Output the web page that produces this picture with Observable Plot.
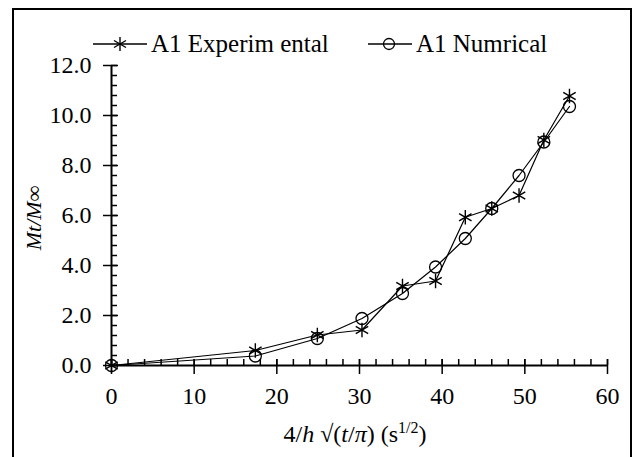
<!DOCTYPE html>
<html>
<head>
<meta charset="utf-8">
<script src="https://cdn.jsdelivr.net/npm/d3@7"></script>
<script src="https://cdn.jsdelivr.net/npm/@observablehq/plot@0.6"></script>
<style>
  html, body { margin: 0; padding: 0; background: #fff; }
  #wrap { position: relative; width: 641px; height: 457px; overflow: hidden; font-family: "Liberation Serif", "Times New Roman", Times, "DejaVu Serif", serif; color: #000; }
  #wrap svg text { font-family: "Liberation Serif", "Times New Roman", Times, "DejaVu Serif", serif; }
  #frame { position: absolute; left: 12px; top: 8px; width: 620px; height: 470px; border: 2px solid #000; box-sizing: border-box; pointer-events: none; }
  #chart { position: absolute; left: 0; top: 0; }
  .legend { position: absolute; top: 28px; font-size: 25px; line-height: 32px; white-space: nowrap; }
  .legend svg { position: absolute; top: 0; }
  .xlabel { position: absolute; top: 419px; left: 0; width: 710px; text-align: center; font-size: 24px; white-space: nowrap; }
  .ylabel { position: absolute; left: 34px; top: 218px; font-size: 22px; font-style: italic; white-space: nowrap; transform: translate(-50%, -50%) rotate(-90deg); }
</style>
</head>
<body>
<div id="wrap">
  <div id="chart"></div>
  <div id="frame"></div>
</div>
<script>
// ---- data ----
const xValues      = [0, 17.4, 24.9, 30.3, 35.2, 39.2, 42.8, 46.0, 49.3, 52.3, 55.4];
const experimental = [0, 0.60, 1.22, 1.42, 3.18, 3.38, 5.93, 6.28, 6.80, 9.02, 10.78];
const numerical    = [0, 0.38, 1.08, 1.88, 2.88, 3.94, 5.08, 6.28, 7.60, 8.94, 10.36];
const seriesNames  = ["A1 Experim ental", "A1 Numrical"];
const xTicks  = [0, 10, 20, 30, 40, 50, 60];
const xMinor  = d3.range(0, 61, 2);
const yTicks  = [0, 2, 4, 6, 8, 10, 12];
const yMinor  = d3.range(0, 12.01, 0.4).map(v => +v.toFixed(1));

const expData = xValues.map((x, i) => ({x, y: experimental[i]}));
const numData = xValues.map((x, i) => ({x, y: numerical[i]}));

const serif = "'Liberation Serif', 'Times New Roman', Times, 'DejaVu Serif', serif";

const plot = Plot.plot({
  width: 641,
  height: 457,
  marginLeft: 111,
  marginRight: 34,
  marginTop: 65,
  marginBottom: 92,
  style: { fontFamily: serif, fontSize: "24px", color: "#000", background: "transparent", overflow: "visible" },
  x: { domain: [0, 60] },
  y: { domain: [0, 12] },
  marks: [
    Plot.axisX({ ticks: xMinor, tickSize: -6, text: null, label: null, strokeWidth: 1.5 }),
    Plot.axisX({ ticks: xTicks, tickSize: -6, text: null, label: null, strokeWidth: 1.5 }),
    Plot.axisX({ ticks: xTicks, tickSize: 9, tickPadding: 12, tickFormat: d => String(d), label: null, strokeWidth: 1.5, fontSize: 24 }),
    Plot.axisY({ ticks: yMinor, tickSize: -6, text: null, label: null, strokeWidth: 1.5 }),
    Plot.axisY({ ticks: yTicks, tickSize: -7, text: null, label: null, strokeWidth: 1.5 }),
    Plot.axisY({ ticks: yTicks, tickSize: 8, tickPadding: 12, tickFormat: d3.format(".1f"), label: null, strokeWidth: 1.5, fontSize: 24 }),
    Plot.ruleX([0], { stroke: "#000", strokeWidth: 2 }),
    Plot.ruleY([0], { stroke: "#000", strokeWidth: 2 }),
    Plot.line(numData, { x: "x", y: "y", stroke: "#000", strokeWidth: 1.2 }),
    Plot.line(expData, { x: "x", y: "y", stroke: "#000", strokeWidth: 1.2 }),
    Plot.dot(numData, { x: "x", y: "y", r: 6, symbol: "circle", stroke: "#000", fill: "none", strokeWidth: 1.3 }),
    Plot.dot(expData, { x: "x", y: "y", r: 6.8, symbol: "asterisk", stroke: "#000", strokeWidth: 1.4 })
  ]
});
document.getElementById("chart").appendChild(plot);

const wrap = document.getElementById("wrap");

// legend
function legendItem(left, name, kind) {
  const d = document.createElement("div");
  d.className = "legend";
  d.style.left = left + "px";
  const sym = kind === "asterisk"
    ? `<line x1="28" y1="9" x2="28" y2="23" stroke="#000" stroke-width="1.4"/><line x1="22" y1="12.5" x2="34" y2="19.5" stroke="#000" stroke-width="1.4"/><line x1="22" y1="19.5" x2="34" y2="12.5" stroke="#000" stroke-width="1.4"/>`
    : `<circle cx="22" cy="16" r="5.5" fill="none" stroke="#000" stroke-width="1.3"/>`;
  const w = kind === "asterisk" ? 56 : 46;
  d.innerHTML = `<svg width="${w}" height="32" style="left:0"><line x1="1" y1="16" x2="${w - 1}" y2="16" stroke="#000" stroke-width="1.5"/>${sym}</svg><span style="margin-left:${w + 3}px">${name}</span>`;
  wrap.appendChild(d);
}
legendItem(92, seriesNames[0], "asterisk");
legendItem(367, seriesNames[1], "circle");

// axis titles
const xl = document.createElement("div");
xl.className = "xlabel";
xl.innerHTML = `4/<i>h</i> √(<i>t</i>/<i>π</i>) (s<sup style="font-size:16px">1/2</sup>)`;
wrap.appendChild(xl);

const yl = document.createElement("div");
yl.className = "ylabel";
yl.textContent = "Mt/M∞";
wrap.appendChild(yl);
</script>
</body>
</html>
